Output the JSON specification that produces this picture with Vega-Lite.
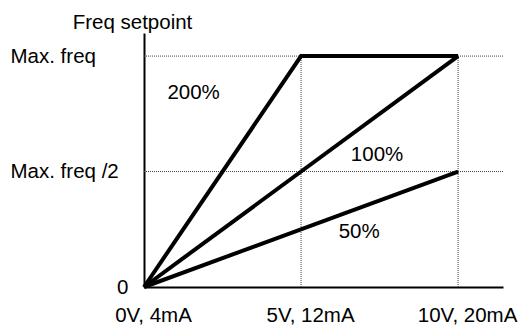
{
  "$schema": "https://vega.github.io/schema/vega-lite/v6.json",
  "width": 359,
  "height": 254,
  "autosize": {"type": "none"},
  "padding": {"left": 144, "top": 33, "right": 15, "bottom": 38},
  "background": "white",
  "config": {"view": {"stroke": null}, "font": "Liberation Sans"},
  "datasets": {
    "lines": [
      {"series": "200%", "x": 0, "y": 0},
      {"series": "200%", "x": 5, "y": 1},
      {"series": "200%", "x": 10, "y": 1},
      {"series": "100%", "x": 0, "y": 0},
      {"series": "100%", "x": 10, "y": 1},
      {"series": "50%", "x": 0, "y": 0},
      {"series": "50%", "x": 10, "y": 0.5}
    ],
    "hgrid": [{"y": 0.5}, {"y": 1}],
    "vgrid": [{"x": 5, "y": 0, "y2": 1}, {"x": 10, "y": 0, "y2": 1}],
    "labels": [
      {"label": "200%", "x": 1.58, "y": 0.84},
      {"label": "100%", "x": 7.42, "y": 0.571},
      {"label": "50%", "x": 6.85, "y": 0.238}
    ]
  },
  "layer": [
    {
      "data": {"name": "hgrid"},
      "mark": {"type": "rule", "color": "#444", "strokeWidth": 1, "strokeDash": [1, 1]},
      "encoding": {
        "y": {"field": "y", "type": "quantitative", "scale": {"domain": [0, 1.1], "nice": false, "zero": false},
          "axis": {
            "values": [0, 0.5, 1],
            "labelExpr": "datum.value == 0 ? '0' : (datum.value == 0.5 ? 'Max. freq /2' : 'Max. freq')",
            "labelAlign": {"condition": {"test": "datum.value == 0", "value": "right"}, "value": "left"},
            "labelPadding": {"condition": {"test": "datum.value == 0", "value": 16}, "value": 134},
            "labelFontSize": 20.5,
            "labelColor": "black",
            "labelBaseline": "middle",
            "ticks": false,
            "grid": false,
            "domainColor": "black",
            "domainWidth": 2,
            "title": "Freq setpoint",
            "titleAngle": 0,
            "titleX": -12,
            "titleY": -11,
            "titleAlign": "center",
            "titleBaseline": "middle",
            "titleFontSize": 20.5,
            "titleFontWeight": "normal",
            "titleColor": "black"
          }
        }
      }
    },
    {
      "data": {"name": "vgrid"},
      "mark": {"type": "rule", "color": "#444", "strokeWidth": 1, "strokeDash": [1, 1]},
      "encoding": {
        "x": {"field": "x", "type": "quantitative", "scale": {"domain": [0, 11.43], "nice": false, "zero": false},
          "axis": {
            "values": [0, 5, 10],
            "labelExpr": "datum.value == 0 ? '0V, 4mA' : (datum.value == 5 ? '5V, 12mA' : '10V, 20mA')",
            "labelFontSize": 20.5,
            "labelColor": "black",
            "labelOffset": 9,
            "labelPadding": 34,
            "labelBaseline": "alphabetic",
            "labelFlush": false,
            "labelOverlap": false,
            "ticks": false,
            "grid": false,
            "domainColor": "black",
            "domainWidth": 2,
            "title": null
          }
        },
        "y": {"field": "y", "type": "quantitative"},
        "y2": {"field": "y2"}
      }
    },
    {
      "data": {"name": "lines"},
      "mark": {"type": "line", "color": "black", "strokeWidth": 4, "strokeJoin": "miter"},
      "encoding": {
        "x": {"field": "x", "type": "quantitative"},
        "y": {"field": "y", "type": "quantitative"},
        "detail": {"field": "series"}
      }
    },
    {
      "data": {"name": "labels"},
      "mark": {"type": "text", "fontSize": 20.5, "color": "black", "align": "center", "baseline": "middle"},
      "encoding": {
        "x": {"field": "x", "type": "quantitative"},
        "y": {"field": "y", "type": "quantitative"},
        "text": {"field": "label"}
      }
    }
  ]
}
